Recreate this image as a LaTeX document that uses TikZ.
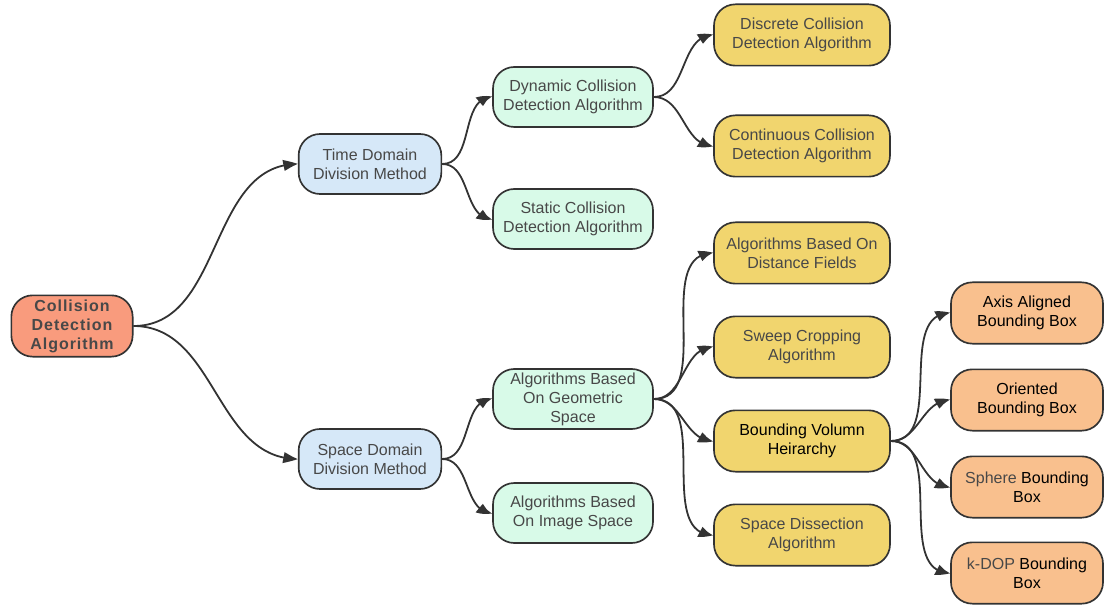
\documentclass[tikz,border=0pt]{standalone}
\usepackage{fontspec}
\setmainfont{Liberation Sans}
\newfontfamily\rootfont[LetterSpace=6]{Liberation Sans}
\usepackage{tikz}
\usetikzlibrary{arrows.meta, bending}

\definecolor{rootfill}{HTML}{F99B7D}
\definecolor{bluefill}{HTML}{D6E8F8}
\definecolor{greenfill}{HTML}{D8FAE8}
\definecolor{yellowfill}{HTML}{F1D56E}
\definecolor{orangefill}{HTML}{F9C08E}
\definecolor{edgegray}{HTML}{333333}
\definecolor{textgray}{HTML}{484848}

\begin{document}
\begin{tikzpicture}[x=0.75pt,y=-0.75pt,
    box/.style={draw=edgegray, line width=1.25pt, rounded corners=16pt, align=center,
      text=textgray, font=\fontsize{12}{14.25}\selectfont, inner sep=2pt, minimum height=45pt},
    rootbox/.style={box, fill=rootfill, minimum width=91pt, minimum height=46pt,
      font=\rootfont\bfseries\fontsize{12}{14.25}\selectfont},
    bluebox/.style={box, fill=bluefill, minimum width=107pt},
    greenbox/.style={box, fill=greenfill, minimum width=120pt},
    yellowbox/.style={box, fill=yellowfill, minimum width=132pt, minimum height=46pt},
    orangebox/.style={box, fill=orangefill, minimum width=114pt, minimum height=46pt},
    link/.style={draw=edgegray, line width=1.35pt, -{Triangle[length=11pt,width=8pt,bend]}}]
    \useasboundingbox (0,0) rectangle (1119,609);

    % Raiz
    \node[rootbox] (root) at (72,326) {Collision\\Detection\\Algorithm};

    % Dominios
    \node[bluebox] (time) at (370,164) {Time Domain\\Division Method};
    \node[bluebox] (space) at (370,459) {Space Domain\\Division Method};

    % Segundo nivel
    \node[greenbox] (dyn) at (573,97) {Dynamic Collision\\Detection Algorithm};
    \node[greenbox] (stat) at (573,219) {Static Collision\\Detection Algorithm};
    \node[greenbox] (geo) at (573,399) {Algorithms Based\\On Geometric\\Space};
    \node[greenbox] (img) at (573,513) {Algorithms Based\\On Image Space};

    % Tercer nivel
    \node[yellowbox] (disc) at (802,35) {Discrete Collision\\Detection Algorithm};
    \node[yellowbox] (cont) at (802,146) {Continuous Collision\\Detection Algorithm};
    \node[yellowbox] (dist) at (802,253) {Algorithms Based On\\Distance Fields};
    \node[yellowbox] (sweep) at (802,347) {Sweep Cropping\\Algorithm};
    \node[yellowbox, text=black] (bvh) at (802,441) {Bounding Volumn\\Heirarchy};
    \node[yellowbox] (dissect) at (802,535) {Space Dissection\\Algorithm};

    % Cajas envolventes
    \node[orangebox, text=black] (aabb) at (1027,313) {Axis Aligned\\Bounding Box};
    \node[orangebox, text=black] (obb) at (1027,400) {Oriented\\Bounding Box};
    \node[orangebox, text=black] (sphere) at (1027,487) {\textcolor{textgray}{Sphere} Bounding\\Box};
    \node[orangebox, text=black] (kdop) at (1027,573) {\textcolor{textgray}{k-DOP} Bounding\\Box};

    % Conexiones
    \foreach \a/\b in {root/time, root/space, time/dyn, time/stat, space/geo, space/img,
        dyn/disc, dyn/cont, geo/dist, geo/sweep, geo/bvh, geo/dissect,
        bvh/aabb, bvh/obb, bvh/sphere, bvh/kdop}
      \draw[link] (\a.east) to[out=0, in=180] (\b.west);
\end{tikzpicture}
\end{document}
